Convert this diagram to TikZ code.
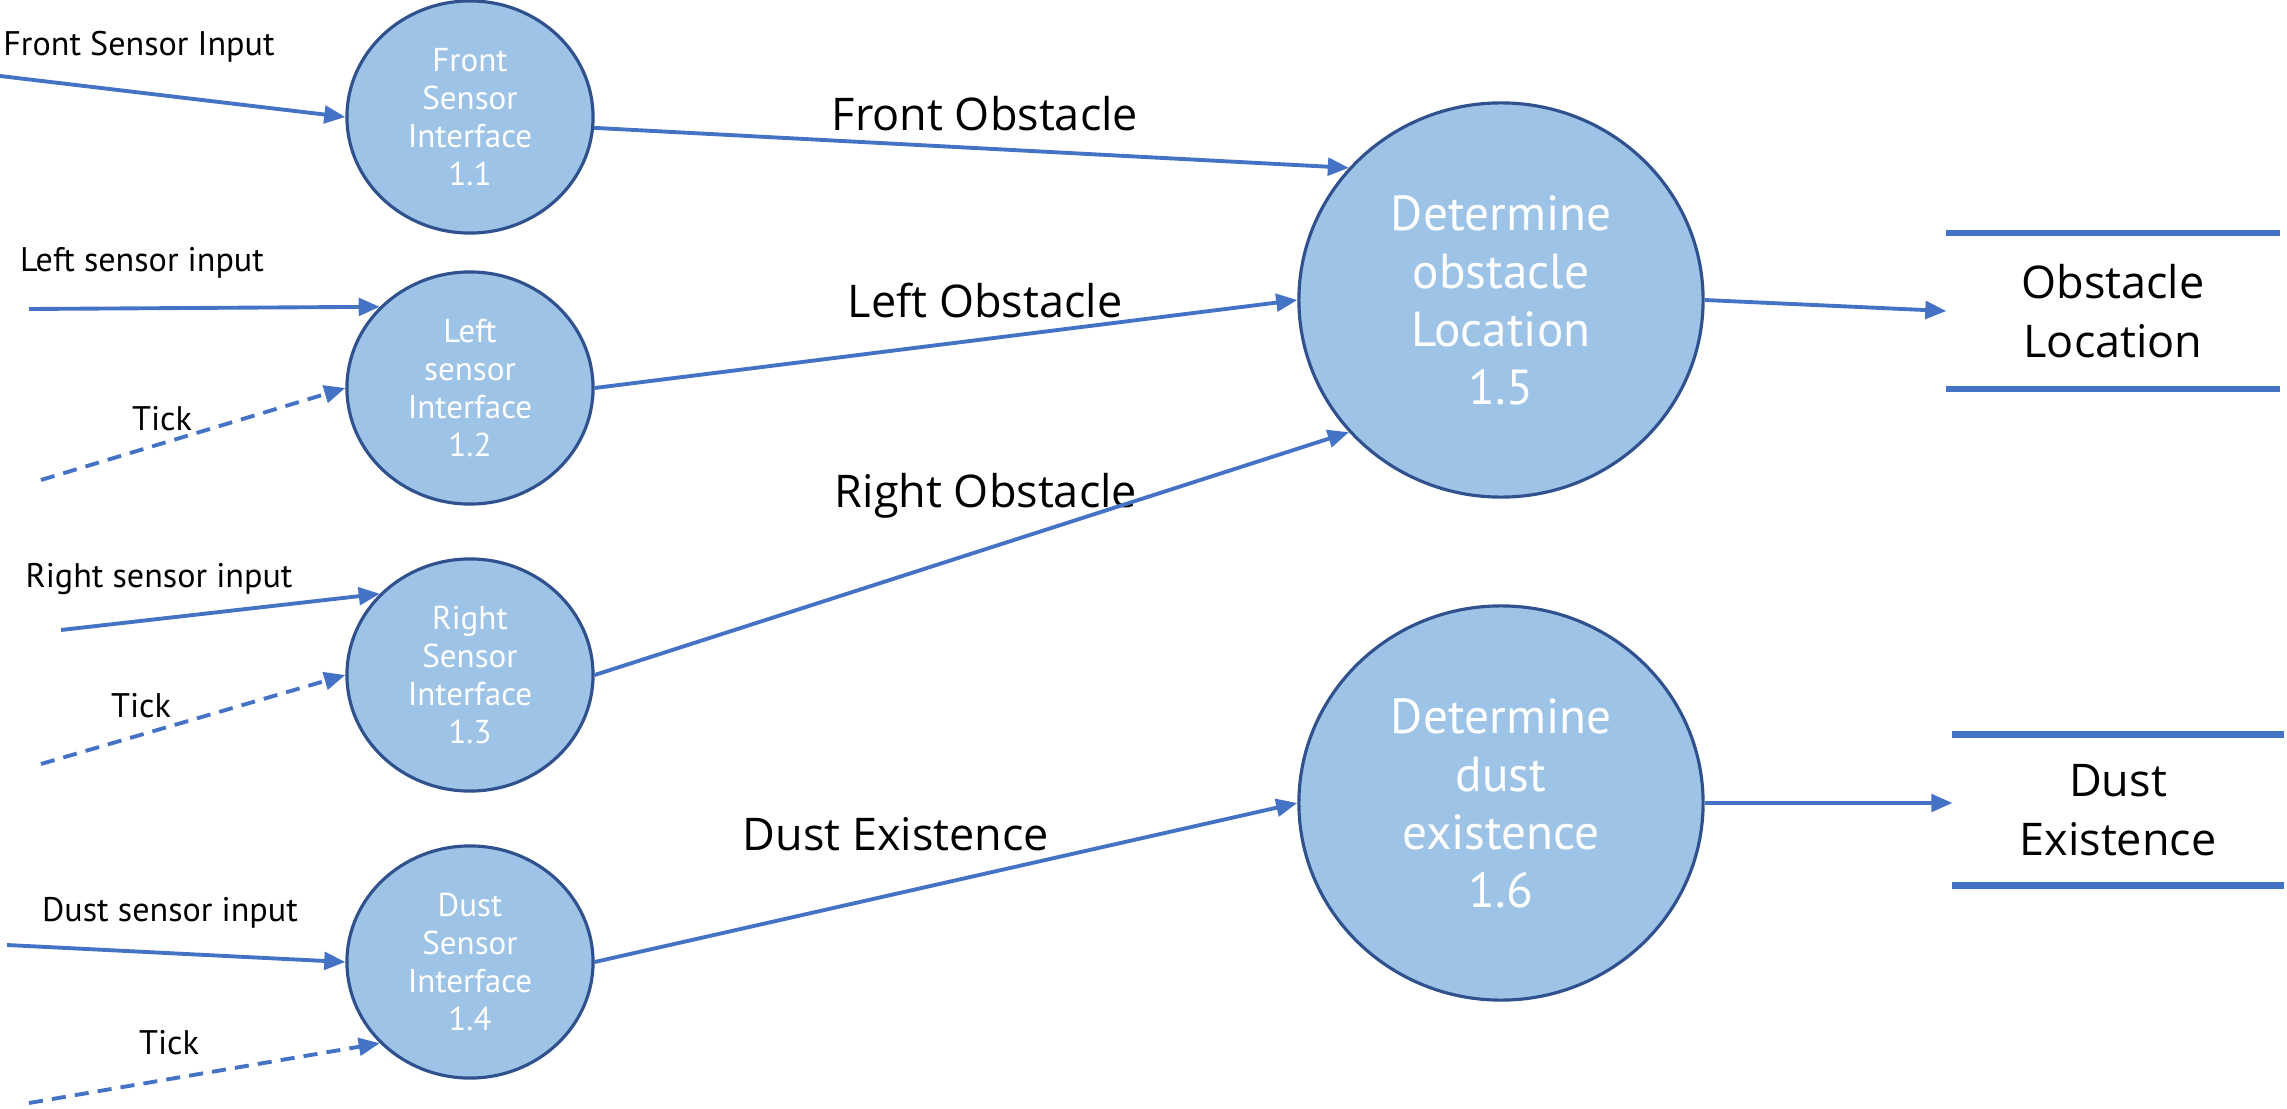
\documentclass[tikz,border=0pt]{standalone}
\usepackage{fontspec}
\setmainfont{PT Sans}
\newfontfamily\lblfont{Open Sans}
\usetikzlibrary{shapes.geometric,arrows.meta}
\definecolor{procfill}{HTML}{9DC3E6}
\definecolor{procline}{HTML}{2F528F}
\definecolor{flowblue}{HTML}{4472C4}

\begin{document}
\begin{tikzpicture}[x=0.01cm, y=-0.01cm,
    sproc/.style={ellipse, draw=procline, fill=procfill, line width=0.9pt, text=white, align=center, inner sep=0pt,
        minimum width=2.46cm, minimum height=2.32cm, font=\fontsize{9.4}{10.8}\selectfont},
    bproc/.style={sproc, minimum width=4.04cm, minimum height=3.94cm, font=\fontsize{14}{16.5}\selectfont},
    store/.style={align=center, inner sep=0pt, outer sep=0pt, font=\lblfont\fontsize{12.8}{16.7}\selectfont},
    storeline/.style={draw=flowblue, line width=1.9pt},
    flow/.style={draw=flowblue, line width=1.1pt, -{Triangle[length=6pt, width=5pt]}},
    tickflow/.style={flow, dash pattern=on 4pt off 2.6pt},
    inlabel/.style={font=\fontsize{9.7}{11.6}\selectfont, inner sep=0pt},
    flowlabel/.style={font=\lblfont\fontsize{12.8}{15}\selectfont, inner sep=0pt}]
 \useasboundingbox (0,0) rectangle (2287,1109);
 \begin{scope}
        % sensor interfaces
        \node[sproc] (P-1) at (470,117) {Front\\Sensor\\Interface\\1.1};
        \node[sproc] (P-2) at (470,388) {Left\\sensor\\Interface\\1.2};
        \node[sproc] (P-3) at (470,675) {Right\\Sensor\\Interface\\1.3};
        \node[sproc] (P-4) at (470,962) {Dust\\Sensor\\Interface\\1.4};
        % decisions
        \node[bproc] (P-5) at (1501,300) {Determine\\obstacle\\Location\\1.5};
        \node[bproc] (P-6) at (1501,803) {Determine\\dust\\existence\\1.6};
        % stores
        \node[store, minimum width=3.33cm, minimum height=1.56cm] (S-1) at (2113,311) {Obstacle\\Location};
        \node[store, minimum width=3.31cm, minimum height=1.51cm] (S-2) at (2118,810) {Dust\\Existence};
        \draw[storeline] (S-1.north west) -- (S-1.north east) (S-1.south west) -- (S-1.south east);
        \draw[storeline] (S-2.north west) -- (S-2.north east) (S-2.south west) -- (S-2.south east);
        % inputs
        \coordinate (I-1) at (0,76);
        \coordinate (I-2) at (29,309);
        \coordinate (I-3) at (41,480);
        \coordinate (I-4) at (61,630);
        \coordinate (I-5) at (41,764);
        \coordinate (I-6) at (7,945);
        \coordinate (I-7) at (29,1103);
        \node[inlabel] (T-1) at (139,47) {Front Sensor Input};
        \node[inlabel] (T-2) at (142,263) {Left sensor input};
        \node[inlabel] (T-3) at (162,419) {Tick};
        \node[inlabel] (T-4) at (159,579) {Right sensor input};
        \node[inlabel] (T-5) at (141,706) {Tick};
        \node[inlabel] (T-6) at (170,913) {Dust sensor input};
        \node[inlabel] (T-7) at (169,1043) {Tick};
        \draw[flow] (I-1) -- (P-1.west);
        \draw[flow] (I-2) -- (P-2.138);
        \draw[tickflow] (I-3) -- (P-2.west);
        \draw[flow] (I-4) -- (P-3.138);
        \draw[tickflow] (I-5) -- (P-3.west);
        \draw[flow] (I-6) -- (P-4.west);
        \draw[tickflow] (I-7) -- (P-4.222);
        % data flows
        \node[flowlabel] (L-1) at (985,114) {Front Obstacle};
        \node[flowlabel] (L-2) at (985,300) {Left Obstacle};
        \node[flowlabel] (L-3) at (986,496) {Right Obstacle};
        \node[flowlabel] (L-4) at (896,834) {Dust Existence};
        \draw[flow] (P-1.-5) -- (P-5.139);
        \draw[flow] (P-2.east) -- (P-5.west);
        \draw[flow] (P-3.east) -- (P-5.221);
        \draw[flow] (P-4.east) -- (P-6.west);
        \draw[flow] (P-5.east) -- (S-1.west);
        \draw[flow] (P-6.east) -- (P-6.east -| S-2.west);
    \end{scope}
\end{tikzpicture}
\end{document}
